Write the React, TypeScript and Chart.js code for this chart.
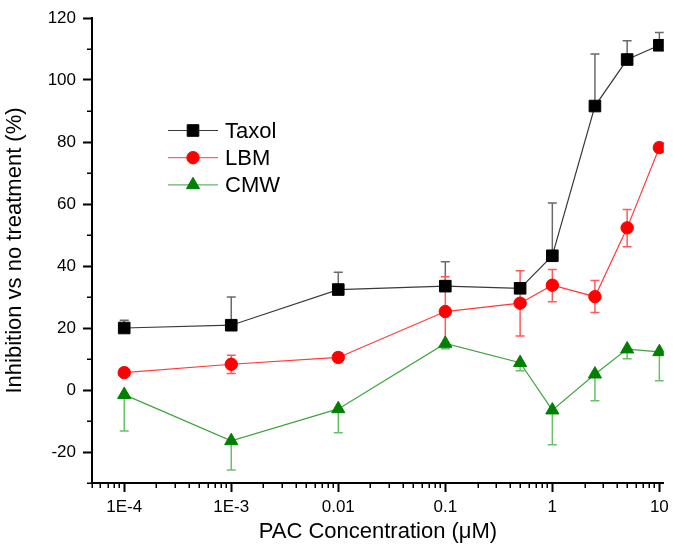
import React, { useEffect, useRef } from 'react';
import { Chart, registerables } from 'chart.js';
import { drawPoint } from 'chart.js/helpers';

Chart.register(...registerables);

// ---- data ----
const concentrations = [0.0001, 0.001, 0.01, 0.1, 0.5, 1, 2.5, 5, 10];

const taxolValues = [20, 20.9, 32.4, 33.5, 32.8, 43.3, 91.6, 106.6, 111.2];
const taxolErrPlus = [2.5, 9.1, 5.6, 7.9, 0, 17, 16.8, 6.1, 4.1];
const taxolErrMinus = [0, 0, 0, 0, 0, 0, 0, 0, 0];

const lbmValues = [5.6, 8.3, 10.5, 25.3, 28, 33.8, 30.1, 52.3, 78.2];
const lbmErrPlus = [0, 2.9, 1.5, 11.2, 10.5, 5.1, 5.2, 5.9, 1.5];
const lbmErrMinus = [0, 3, 1.5, 11.3, 10.6, 5.3, 5.1, 6.1, 1.5];

const cmwValues = [-1.5, -16.4, -6.1, 15, 8.8, -6.5, 5.1, 13.2, 12.3];
const cmwErrPlus = [0, 0, 0, 0, 0, 0, 0, 0, 0];
const cmwErrMinus = [11.7, 9.4, 7.7, 1.7, 2.6, 11.2, 8.6, 3.1, 9.3];

const seriesLabels = ['Taxol', 'LBM', 'CMW'];

const xTickValues = [0.0001, 0.001, 0.01, 0.1, 1, 10];
const xTickLabels = ['1E-4', '1E-3', '0.01', '0.1', '1', '10'];
const yTickValues = [-20, 0, 20, 40, 60, 80, 100, 120];
const yTickLabels = ['-20', '0', '20', '40', '60', '80', '100', '120'];
const yMinorTickValues = [-30, -10, 10, 30, 50, 70, 90, 110];

const X_MIN = 5e-5;
const X_MAX = 11;
const Y_MIN = -30;
const Y_MAX = 120;

// ---- styles ----
const FONT = "'Liberation Sans', Arial, sans-serif";
const seriesStyles = [
  { line: '#3a3a3a', marker: '#000000', err: '#6a6a6a', pointStyle: 'rect', radius: 8.2 },
  { line: '#ff3a3a', marker: '#ff0000', err: '#ff5a5a', pointStyle: 'circle', radius: 6.2 },
  { line: '#3fa33f', marker: '#008000', err: '#6abf6a', pointStyle: 'triangle', radius: 7.6 },
];
const seriesErrors = [
  { plus: taxolErrPlus, minus: taxolErrMinus, values: taxolValues },
  { plus: lbmErrPlus, minus: lbmErrMinus, values: lbmValues },
  { plus: cmwErrPlus, minus: cmwErrMinus, values: cmwValues },
];

const isMajorX = (v: number) => xTickValues.some((t) => Math.abs(t - v) / t < 1e-6);
const isMajorY = (v: number) => yTickValues.some((t) => Math.abs(t - v) < 1e-6);

function xMinorValues(): number[] {
  const out: number[] = [];
  for (let e = -5; e <= 1; e++) {
    for (let m = 2; m <= 9; m++) {
      const v = m * Math.pow(10, e);
      if (v >= X_MIN && v <= X_MAX) out.push(v);
    }
  }
  return out;
}

const errorBarPlugin = {
  id: 'errorBars',
  beforeDatasetsDraw(chart: any) {
    const { ctx, chartArea, scales } = chart;
    const x = scales.x;
    const y = scales.y;
    ctx.save();
    ctx.beginPath();
    ctx.rect(chartArea.left, chartArea.top - 2, chartArea.width, chartArea.height + 4);
    ctx.clip();
    const cap = 4.5;
    seriesErrors.forEach((s, si) => {
      ctx.strokeStyle = seriesStyles[si].err;
      ctx.lineWidth = 1.5;
      concentrations.forEach((c, i) => {
        const px = x.getPixelForValue(c);
        const v = s.values[i];
        const pv = y.getPixelForValue(v);
        if (s.plus[i] > 0) {
          const ph = y.getPixelForValue(v + s.plus[i]);
          ctx.beginPath();
          ctx.moveTo(px, pv);
          ctx.lineTo(px, ph);
          ctx.moveTo(px - cap, ph);
          ctx.lineTo(px + cap, ph);
          ctx.stroke();
        }
        if (s.minus[i] > 0) {
          const pl = y.getPixelForValue(v - s.minus[i]);
          ctx.beginPath();
          ctx.moveTo(px, pv);
          ctx.lineTo(px, pl);
          ctx.moveTo(px - cap, pl);
          ctx.lineTo(px + cap, pl);
          ctx.stroke();
        }
      });
    });
    ctx.restore();
  },
};

const minorTickPlugin = {
  id: 'minorTicks',
  afterDraw(chart: any) {
    const { ctx, chartArea, scales } = chart;
    ctx.save();
    ctx.strokeStyle = '#000';
    ctx.lineWidth = 1.5;
    const len = 5;
    xMinorValues().forEach((v) => {
      const px = Math.round(scales.x.getPixelForValue(v)) + 0.25;
      ctx.beginPath();
      ctx.moveTo(px, chartArea.bottom);
      ctx.lineTo(px, chartArea.bottom + len);
      ctx.stroke();
    });
    yMinorTickValues.forEach((v) => {
      const py = Math.round(scales.y.getPixelForValue(v)) + 0.25;
      ctx.beginPath();
      ctx.moveTo(chartArea.left, py);
      ctx.lineTo(chartArea.left - len, py);
      ctx.stroke();
    });
    ctx.restore();
  },
};

const legendPlugin = {
  id: 'insideLegend',
  afterDraw(chart: any) {
    const { ctx, chartArea } = chart;
    const x0 = chartArea.left + 76;
    const x1 = chartArea.left + 126;
    const xm = chartArea.left + 101;
    const xt = chartArea.left + 133;
    ctx.save();
    chart.data.datasets.forEach((ds: any, i: number) => {
      const st = seriesStyles[i];
      const yy = chartArea.top + 112.5 + i * 27.2;
      ctx.strokeStyle = st.line;
      ctx.lineWidth = 1;
      ctx.beginPath();
      ctx.moveTo(x0, yy);
      ctx.lineTo(x1, yy);
      ctx.stroke();
      ctx.fillStyle = st.marker;
      ctx.strokeStyle = st.marker;
      drawPoint(ctx, { pointStyle: st.pointStyle, radius: st.radius, rotation: 0, borderWidth: 1 } as any, xm, yy);
      ctx.fillStyle = '#000';
      ctx.font = `22px ${FONT}`;
      ctx.textBaseline = 'middle';
      ctx.textAlign = 'left';
      ctx.fillText(ds.label, xt, yy + 1);
    });
    ctx.restore();
  },
};

export default function App() {
  const canvasRef = useRef<HTMLCanvasElement | null>(null);

  useEffect(() => {
    document.body.style.margin = '0';
    const canvas = canvasRef.current;
    if (!canvas) return;
    Chart.defaults.font.family = FONT;
    Chart.defaults.color = '#000';

    const valueSets = [taxolValues, lbmValues, cmwValues];
    const datasets = valueSets.map((vals, i) => ({
      label: seriesLabels[i],
      data: concentrations.map((c, j) => ({ x: c, y: vals[j] })),
      borderColor: seriesStyles[i].line,
      borderWidth: 1.2,
      backgroundColor: seriesStyles[i].marker,
      pointBackgroundColor: seriesStyles[i].marker,
      pointBorderColor: seriesStyles[i].marker,
      pointBorderWidth: 1,
      pointStyle: seriesStyles[i].pointStyle,
      pointRadius: seriesStyles[i].radius,
      tension: 0,
      fill: false,
    }));

    const chart = new Chart(canvas, {
      type: 'line',
      data: { datasets },
      plugins: [errorBarPlugin, minorTickPlugin, legendPlugin],
      options: {
        animation: false,
        responsive: false,
        devicePixelRatio: 1,
        layout: { padding: { top: 18, right: 7, left: 0, bottom: 0 } },
        plugins: {
          legend: { display: false },
          tooltip: { enabled: false },
        },
        scales: {
          x: {
            type: 'logarithmic',
            min: X_MIN,
            max: X_MAX,
            afterBuildTicks: (scale: any) => {
              const vals = [...xTickValues, ...xMinorValues()].sort((a, b) => a - b);
              scale.ticks = vals.map((v) => ({ value: v, major: isMajorX(v) }));
            },
            afterFit: (scale: any) => {
              scale.height = 64;
              scale.paddingLeft = 0;
              scale.paddingRight = 0;
            },
            ticks: {
              autoSkip: false,
              maxRotation: 0,
              minRotation: 0,
              padding: 5,
              font: { size: 17 },
              color: '#000',
              callback: (value: any) => {
                const v = Number(value);
                const idx = xTickValues.findIndex((t) => Math.abs(t - v) / t < 1e-6);
                return idx >= 0 ? xTickLabels[idx] : '';
              },
            },
            grid: {
              display: true,
              drawOnChartArea: false,
              drawTicks: true,
              tickLength: 9,
              tickWidth: 2,
              tickColor: (ctx: any) => (ctx.tick && isMajorX(ctx.tick.value) ? '#000' : 'rgba(0,0,0,0)'),
            },
            border: { display: true, color: '#000', width: 2 },
            title: {
              display: true,
              text: 'PAC Concentration (\u03bcM)',
              font: { size: 22 },
              color: '#000',
              padding: { top: 2, bottom: 2 },
            },
          },
          y: {
            type: 'linear',
            min: Y_MIN,
            max: Y_MAX,
            afterBuildTicks: (scale: any) => {
              const vals = [...yTickValues, ...yMinorTickValues].sort((a, b) => a - b);
              scale.ticks = vals.map((v) => ({ value: v, major: isMajorY(v) }));
            },
            afterFit: (scale: any) => {
              scale.width = 92;
              scale.paddingTop = 0;
              scale.paddingBottom = 0;
            },
            ticks: {
              autoSkip: false,
              padding: 7,
              font: { size: 17 },
              color: '#000',
              callback: (value: any) => {
                const v = Number(value);
                const idx = yTickValues.findIndex((t) => Math.abs(t - v) < 1e-6);
                return idx >= 0 ? yTickLabels[idx] : '';
              },
            },
            grid: {
              display: true,
              drawOnChartArea: false,
              drawTicks: true,
              tickLength: 9,
              tickWidth: 2,
              tickColor: (ctx: any) => (ctx.tick && isMajorY(ctx.tick.value) ? '#000' : 'rgba(0,0,0,0)'),
            },
            border: { display: true, color: '#000', width: 2 },
            title: {
              display: true,
              text: 'Inhibition vs no treatment (%)',
              font: { size: 22 },
              color: '#000',
              padding: { top: 2, bottom: 2 },
            },
          },
        },
      },
    } as any);

    return () => {
      chart.destroy();
    };
  }, []);

  return (
    <div style={{ width: 673, height: 547, position: 'relative', background: '#fff' }}>
      <canvas ref={canvasRef} width={673} height={547} style={{ display: 'block', width: 673, height: 547 }} />
    </div>
  );
}
